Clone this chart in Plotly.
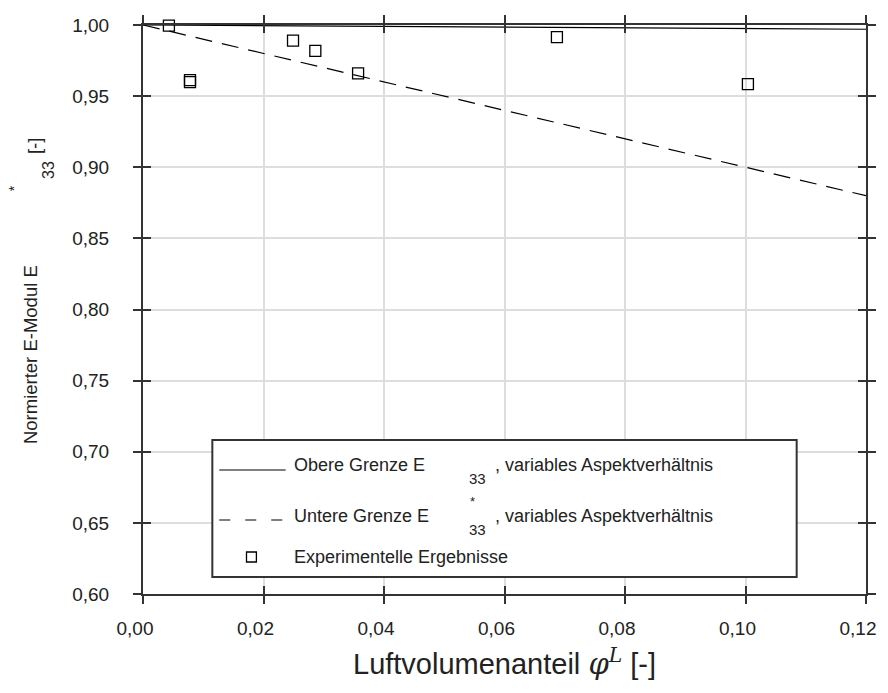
import plotly.graph_objects as go

# ---- data ----
phi_bounds = [0.0, 0.03, 0.06, 0.09, 0.12]
upper_bound = [1.0, 0.99925, 0.9985, 0.99775, 0.997]
lower_bound = [1.0, 0.97, 0.94, 0.91, 0.88]

phi_exp = [0.0043, 0.0078, 0.0078, 0.0249, 0.0286, 0.0357, 0.0687, 0.1004]
E_exp = [0.9995, 0.9613, 0.9599, 0.9890, 0.9818, 0.9660, 0.9915, 0.9585]

x_ticks = [0.0, 0.02, 0.04, 0.06, 0.08, 0.10, 0.12]
y_ticks = [0.60, 0.65, 0.70, 0.75, 0.80, 0.85, 0.90, 0.95, 1.00]

legend_labels = ["Obere Grenze E", "Untere Grenze E", "Experimentelle Ergebnisse"]
legend_suffix = ", variables Aspektverhältnis"

# ---- geometry (pixels) ----
W, H = 888, 693
L, R, T, B = 143, 873, 25, 594
FONT = "Liberation Sans, Arial, sans-serif"
AX = "#333333"

def px(xp):
    return (xp - L) / (R - L)

def py(yp):
    return (B - yp) / (B - T)

fig = go.Figure()
fig.add_trace(go.Scatter(x=phi_bounds, y=upper_bound, mode="lines",
                         line=dict(color="black", width=1.2), showlegend=False))
fig.add_trace(go.Scatter(x=phi_bounds, y=lower_bound, mode="lines",
                         line=dict(color="black", width=1.2, dash="17px,10px"), showlegend=False))
fig.add_trace(go.Scatter(x=phi_exp, y=E_exp, mode="markers",
                         marker=dict(symbol="square-open", size=11, color="black",
                                     line=dict(width=1.3, color="black")),
                         cliponaxis=False, showlegend=False))
# overlay axes used for the inner half of crossing ticks
fig.add_trace(go.Scatter(x=[None], y=[None], xaxis="x2", yaxis="y2", showlegend=False))

axis_common = dict(showline=True, linewidth=2, linecolor=AX, mirror="allticks",
                   tickwidth=2, tickcolor=AX, ticklen=8,
                   tickfont=dict(family=FONT, size=19, color="#222"))

fig.update_layout(
    width=W, height=H,
    margin=dict(l=L, r=W - R, t=T, b=H - B),
    paper_bgcolor="white", plot_bgcolor="white",
    separators=",.",
    showlegend=False,
    xaxis=dict(range=[0, 0.12], tickvals=x_ticks, tickformat=".2f", ticks="outside",
               showgrid=True, gridcolor="#dddddd", gridwidth=1.5, zeroline=False,
               ticklabelstandoff=8, ticklabelshift=-8, **axis_common),
    yaxis=dict(range=[0.6, 1.0], tickvals=y_ticks, tickformat=".2f", ticks="outside",
               showgrid=True, gridcolor="#dddddd", gridwidth=1.5, zeroline=False,
               ticklabelstandoff=20, **axis_common),
    xaxis2=dict(range=[0, 0.12], tickvals=x_ticks, overlaying="x", ticks="inside",
                mirror="allticks", showticklabels=False, showgrid=False, zeroline=False,
                showline=False, tickwidth=2, tickcolor=AX, ticklen=8),
    yaxis2=dict(range=[0.6, 1.0], tickvals=y_ticks, overlaying="y", ticks="inside",
                mirror="allticks", showticklabels=False, showgrid=False, zeroline=False,
                showline=False, tickwidth=2, tickcolor=AX, ticklen=8),
)

anns = []
def txt(x, y, s, size=18, angle=0, xanchor="center", yanchor="middle", family=FONT):
    anns.append(dict(x=px(x), y=py(y), xref="paper", yref="paper", text=s,
                     showarrow=False, textangle=angle, xanchor=xanchor, yanchor=yanchor,
                     font=dict(family=family, size=size, color="#222")))

# x-axis title
txt((L + R) / 2, 662,
    "Luftvolumenanteil <span style='font-family:DejaVu Serif'><i>φ</i><sup><i>L</i></sup></span> [-]",
    size=29)

# y-axis title pieces
txt(29, 355, "Normierter E-Modul E", size=18.5, angle=-90)
txt(13, 188, "*", size=14, angle=-90)
txt(47, 170, "33", size=16, angle=-90)
txt(33, 146, "[-]", size=18.5, angle=-90)

# legend box
shapes = [dict(type="rect", xref="paper", yref="paper",
               x0=px(213), x1=px(803), y0=py(577), y1=py(440),
               line=dict(color=AX, width=2), fillcolor="white", layer="above")]
shapes.append(dict(type="line", xref="paper", yref="paper", x0=px(220), x1=px(287),
                   y0=py(470), y1=py(470), line=dict(color="black", width=1.2), layer="above"))
shapes.append(dict(type="line", xref="paper", yref="paper", x0=px(220), x1=px(287),
                   y0=py(520), y1=py(520), line=dict(color="black", width=1.2, dash="11px,15px"),
                   layer="above"))
shapes.append(dict(type="rect", xref="paper", yref="paper", x0=px(247.5), x1=px(257.5),
                   y0=py(562), y1=py(552), line=dict(color="black", width=1.3),
                   fillcolor="white", layer="above"))

txt(293, 465, legend_labels[0], xanchor="left")
txt(481, 478, "33", size=15)
txt(496, 465, legend_suffix, xanchor="left")
txt(293, 516, legend_labels[1], xanchor="left")
txt(476, 501, "*", size=13)
txt(481, 529, "33", size=15)
txt(496, 516, legend_suffix, xanchor="left")
txt(293, 557, legend_labels[2], xanchor="left")

fig.update_layout(annotations=anns, shapes=shapes)
fig.write_html("out.html")
